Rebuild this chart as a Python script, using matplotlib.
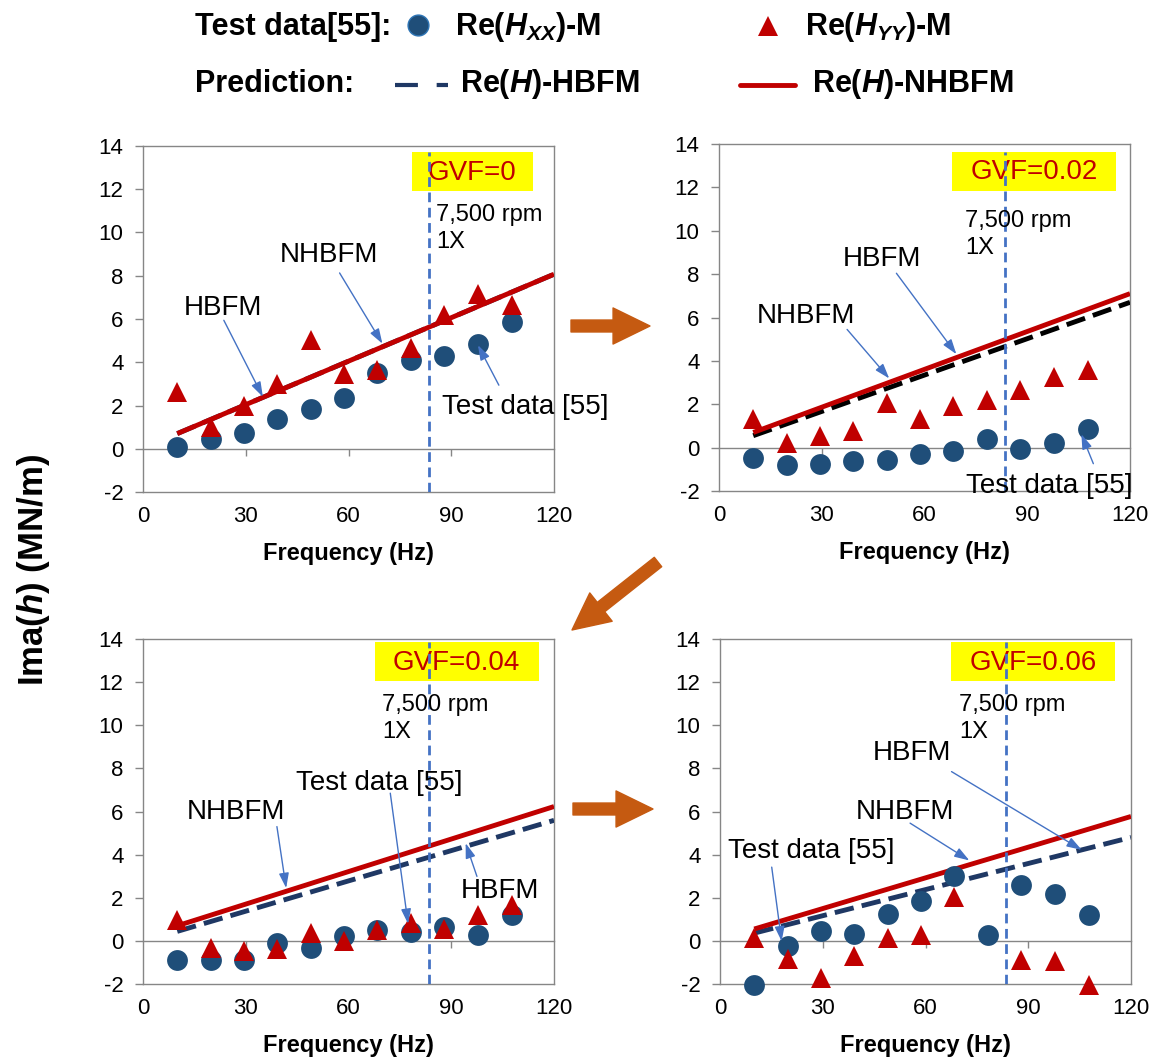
import matplotlib
matplotlib.use("Agg")
import matplotlib.pyplot as plt
import numpy as np
from matplotlib.lines import Line2D
from matplotlib.patches import Rectangle, FancyArrowPatch

plt.rcParams['font.family'] = 'Liberation Sans'
plt.rcParams['axes.unicode_minus'] = False
plt.rcParams['mathtext.fontset'] = 'custom'
plt.rcParams['mathtext.rm'] = 'Liberation Sans:bold'
plt.rcParams['mathtext.it'] = 'Liberation Sans:italic:bold'
plt.rcParams['mathtext.bf'] = 'Liberation Sans:bold'

# excitation frequencies of the test points (Hz)
freq = [10, 19.8, 29.5, 39.2, 49, 58.7, 68.4, 78.2, 88, 97.8, 107.6]
# model predictions are straight lines, given at their two ends
pred_freq = [10, 120]
rpm_1x = 83.5  # 7,500 rpm synchronous frequency

gvf_labels = ["GVF=0", "GVF=0.02", "GVF=0.04", "GVF=0.06"]

# GVF = 0
hxx_0 = [0.09, 0.43, 0.73, 1.38, 1.86, 2.35, 3.48, 4.09, 4.27, 4.86, 5.87]
hyy_0 = [2.63, 1.01, 1.97, 2.98, 5.02, 3.45, 3.63, 4.68, 6.20, 7.14, 6.63]
hbfm_0 = [0.70, 8.07]
nhbfm_0 = [0.70, 8.07]

# GVF = 0.02
hxx_2 = [-0.46, -0.82, -0.77, -0.63, -0.58, -0.31, -0.17, 0.40, -0.05, 0.23, 0.85]
hyy_2 = [1.32, 0.20, 0.54, 0.77, 2.05, 1.32, 1.90, 2.20, 2.66, 3.26, 3.58]
hbfm_2 = [0.55, 6.70]
nhbfm_2 = [0.70, 7.10]

# GVF = 0.04
hxx_4 = [-0.87, -0.90, -0.90, -0.10, -0.33, 0.21, 0.52, 0.41, 0.64, 0.25, 1.18]
hyy_4 = [0.98, -0.33, -0.49, -0.38, 0.36, 0.00, 0.52, 0.83, 0.55, 1.21, 1.68]
hbfm_4 = [0.44, 5.59]
nhbfm_4 = [0.70, 6.23]

# GVF = 0.06
hxx_6 = [-2.06, -0.25, 0.47, 0.33, 1.26, 1.86, 2.99, 0.29, 2.57, 2.17, 1.18]
hyy_6 = [0.15, -0.84, -1.74, -0.69, 0.15, 0.27, 2.02, np.nan, -0.90, -0.95, -2.03]
hbfm_6 = [0.36, 4.80]
nhbfm_6 = [0.55, 5.77]

navy = '#1F4E79'
red = '#C00000'
dash_navy = '#1F3864'
blue = '#4472C4'
grey = '#868686'
orange = '#C55A11'

W, H = 1157, 1062
fig = plt.figure(figsize=(W / 100, H / 100), dpi=100)


def px_axes(x0, y0, x1, y1):
    return fig.add_axes([x0 / W, 1 - y1 / H, (x1 - x0) / W, (y1 - y0) / H])


axes = [px_axes(143, 146, 554, 492), px_axes(719, 144, 1130, 491),
        px_axes(143, 639, 554, 984), px_axes(720, 639, 1131, 984)]

series = [(hxx_0, hyy_0, hbfm_0, nhbfm_0, dash_navy),
          (hxx_2, hyy_2, hbfm_2, nhbfm_2, 'black'),
          (hxx_4, hyy_4, hbfm_4, nhbfm_4, dash_navy),
          (hxx_6, hyy_6, hbfm_6, nhbfm_6, dash_navy)]

# yellow GVF boxes: x0, x1, y0, y1 in data units
gvf_boxes = [(78.5, 113.9, 11.9, 13.7), (67.9, 115.9, 11.85, 13.65),
             (67.6, 115.5, 12.05, 13.85), (67.4, 115.3, 12.05, 13.85)]
rpm_pos = [(85.6, 11.3), (71.8, 10.95), (69.9, 11.45), (69.9, 11.45)]

# label text, text position (baseline), arrow tail, arrow head
notes = [
    [("NHBFM", 54.3, 8.64, 'center', (57.4, 8.13), (69.9, 4.86)),
     ("HBFM", 23.4, 6.17, 'center', (23.6, 5.94), (35.0, 2.40)),
     ("Test data [55]", 87.4, 1.63, 'left', (103.9, 2.94), (97.8, 4.79))],
    [("HBFM", 47.7, 8.38, 'center', (51.8, 8.04), (69.3, 4.31)),
     ("NHBFM", 25.5, 5.76, 'center', (37.4, 5.45), (49.7, 3.19)),
     ("Test data [55]", 72.2, -2.09, 'left', (109.3, -0.74), (105.8, 0.62))],
    [("Test data [55]", 69.0, 6.98, 'center', (72.2, 6.85), (77.4, 0.79)),
     ("NHBFM", 27.1, 5.65, 'center', (39.1, 5.30), (41.8, 2.45)),
     ("HBFM", 104.3, 1.97, 'center', (97.5, 2.99), (94.2, 4.53))],
    [("HBFM", 56.0, 8.37, 'center', (67.6, 7.85), (105.6, 4.22)),
     ("NHBFM", 54.0, 5.65, 'center', (55.5, 5.46), (72.8, 3.73)),
     ("Test data [55]", 2.4, 3.84, 'left', (15.1, 3.42), (18.0, -0.02))],
]

for i, ax in enumerate(axes):
    hxx, hyy, hbfm, nhbfm, hb_color = series[i]

    ax.set_xlim(0, 120)
    ax.set_ylim(-2, 14)
    ax.set_xticks(range(0, 121, 30))
    ax.set_yticks(range(-2, 15, 2))
    ax.tick_params(axis='x', length=0, labelsize=16, pad=10)
    ax.tick_params(axis='y', length=6, width=1, color=grey, labelsize=16, pad=8)
    for s in ax.spines.values():
        s.set_color(grey)
        s.set_linewidth(1)

    # category axis crossing at zero, with its own short ticks
    zero = ax.secondary_xaxis(2 / 16)
    zero.set_xticks([30, 60, 90])
    zero.tick_params(length=5, width=1, color=grey, labelbottom=False)
    zero.spines['bottom'].set_color(grey)
    zero.spines['bottom'].set_linewidth(1)

    ax.set_xlabel("Frequency (Hz)", fontsize=17, fontweight='bold', labelpad=11)

    bx0, bx1, by0, by1 = gvf_boxes[i]
    ax.add_patch(Rectangle((bx0, by0), bx1 - bx0, by1 - by0, facecolor='#FFFF00',
                           edgecolor='none', zorder=2))
    ax.text((bx0 + bx1) / 2, (by0 + by1) / 2 - 0.05, gvf_labels[i], color=red,
            fontsize=20, ha='center', va='center', zorder=3)

    ax.plot(pred_freq, hbfm, color=hb_color, lw=3.5, ls=(0, (4, 1.7)), zorder=4)
    ax.plot(pred_freq, nhbfm, color=red, lw=3.5, solid_capstyle='butt', zorder=5)
    ax.plot(freq, hxx, 'o', color=navy, ms=15, mew=0, clip_on=False, zorder=6)
    ax.plot(freq, hyy, '^', color=red, ms=14, mew=0, clip_on=False, zorder=7)

    ax.vlines(rpm_1x, -2, by1, colors=blue, lw=2, linestyles=(0, (3.5, 2)), zorder=8)
    rx, ry = rpm_pos[i]
    ax.text(rx, ry, "7,500 rpm\n1X", fontsize=17, ha='left', va='top',
            linespacing=1.3, zorder=9)

    for label, tx, ty, ha, tail, head in notes[i]:
        ax.text(tx, ty, label, fontsize=20, ha=ha, va='baseline', zorder=9)
        ax.annotate('', xy=head, xytext=tail, zorder=9,
                    arrowprops=dict(arrowstyle='-|>,head_length=0.45,head_width=0.15',
                                    color=blue, lw=1, mutation_scale=20,
                                    shrinkA=0, shrinkB=0))

fig.text(34 / W, 1 - 570 / H, r"Ima($\mathit{h}$) (MN/m)", rotation=90,
         fontsize=25, fontweight='bold', ha='center', va='center')

# legend block across the top
def fx(px):
    return px / W


def fy(py):
    return 1 - py / H


fig.text(fx(195), fy(35), "Test data[55]:", fontsize=22, fontweight='bold', va='baseline')
fig.add_artist(Line2D([fx(418)], [fy(25)], marker='o', ms=15, color=navy,
                      mec='#2E75B6', mew=1, transform=fig.transFigure))
fig.text(fx(455), fy(35), r"Re($\mathit{H}_{\mathit{XX}}$)-M", fontsize=22,
         fontweight='bold', va='baseline')
fig.add_artist(Line2D([fx(768)], [fy(26)], marker='^', ms=14, color=red, mew=0,
                      transform=fig.transFigure))
fig.text(fx(805), fy(35), r"Re($\mathit{H}_{\mathit{YY}}$)-M", fontsize=22,
         fontweight='bold', va='baseline')

fig.text(fx(195), fy(92), "Prediction:", fontsize=22, fontweight='bold', va='baseline')
fig.add_artist(Line2D([fx(395), fx(448)], [fy(85), fy(85)], color=dash_navy, lw=3,
                      ls=(0, (5.5, 4.5)), transform=fig.transFigure))
fig.text(fx(460), fy(92), r"Re($\mathit{H}$)-HBFM", fontsize=22, fontweight='bold',
         va='baseline')
fig.add_artist(Line2D([fx(740), fx(795)], [fy(85), fy(85)], color=red, lw=3.5,
                      solid_capstyle='round', transform=fig.transFigure))
fig.text(fx(812), fy(92), r"Re($\mathit{H}$)-NHBFM", fontsize=22, fontweight='bold',
         va='baseline')

# block arrows showing the order of the panels
arrow_style = 'simple,head_length=1.33,head_width=1.3,tail_width=0.43'
for (x0, y0), (x1, y1) in [((571, 326), (650, 326)),
                           ((658, 562), (572, 630)),
                           ((573, 809), (653, 809))]:
    fig.add_artist(FancyArrowPatch((x0 / 100, (H - y0) / 100), (x1 / 100, (H - y1) / 100),
                                   arrowstyle=arrow_style, mutation_scale=20,
                                   color=orange, shrinkA=0, shrinkB=0,
                                   transform=fig.dpi_scale_trans))

fig.savefig("out.png", dpi=100)
